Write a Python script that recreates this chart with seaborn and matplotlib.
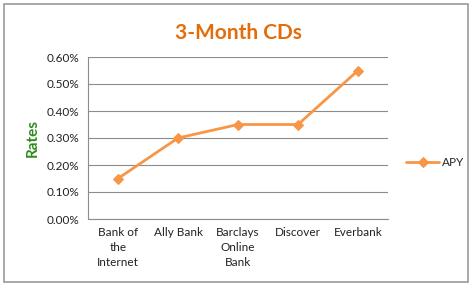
import matplotlib
matplotlib.use("Agg")
import matplotlib.pyplot as plt
import seaborn as sns
import pandas as pd
from matplotlib.patches import Rectangle

banks = ["Bank of\nthe\nInternet", "Ally Bank", "Barclays\nOnline\nBank", "Discover", "Everbank"]
apy = [0.15, 0.30, 0.35, 0.35, 0.55]
yticks = [0.0, 0.1, 0.2, 0.3, 0.4, 0.5, 0.6]
ytick_labels = ["0.00%", "0.10%", "0.20%", "0.30%", "0.40%", "0.50%", "0.60%"]

sns.set_style("white")
plt.rcParams["font.family"] = ["Lato", "DejaVu Sans"]

df = pd.DataFrame({"bank": banks, "APY": apy, "x": range(len(banks))})

fig = plt.figure(figsize=(4.74, 2.90), dpi=100)
ax = fig.add_axes([88/474, 1-219/290, 300/474, (219-57)/290])

sns.lineplot(data=df, x="x", y="APY", ax=ax, color="#F79646", linewidth=2,
             marker="D", markersize=5, markeredgecolor="#F79646", label="APY")

ax.set_xlim(-0.5, 4.5)
ax.set_ylim(0, 0.6)
ax.set_yticks(yticks)
ax.set_yticklabels(ytick_labels, fontsize=8.5, color="#222222")
ax.set_xticks(range(len(banks)))
ax.set_xticklabels(banks, fontsize=8.5, color="#222222", linespacing=1.45, va="top")
ax.tick_params(axis="both", length=0, pad=6)
ax.yaxis.grid(True, color="#8c8c8c", linewidth=0.8)
ax.set_axisbelow(True)
for s in ["top", "right"]:
    ax.spines[s].set_visible(False)
for s in ["left", "bottom"]:
    ax.spines[s].set_color("#8c8c8c")
    ax.spines[s].set_linewidth(0.8)
ax.set_xlabel("")
ax.set_ylabel("Rates", fontsize=11, fontweight="bold", color="#2E8B1F", labelpad=5)

ax.set_title("3-Month CDs", fontsize=15, fontweight="bold", color="#E46C0A", pad=13)

leg = ax.legend(loc="center left", bbox_to_anchor=(1.025, 0.35), frameon=False,
                fontsize=8.5, handlelength=2.8, handletextpad=0.2)

fig.patches.append(Rectangle((4/474, 8/290), 464/474, 278/290, transform=fig.transFigure,
                             fill=False, edgecolor="#9a9a9a", linewidth=1.2))

fig.savefig("out.png", dpi=100)
